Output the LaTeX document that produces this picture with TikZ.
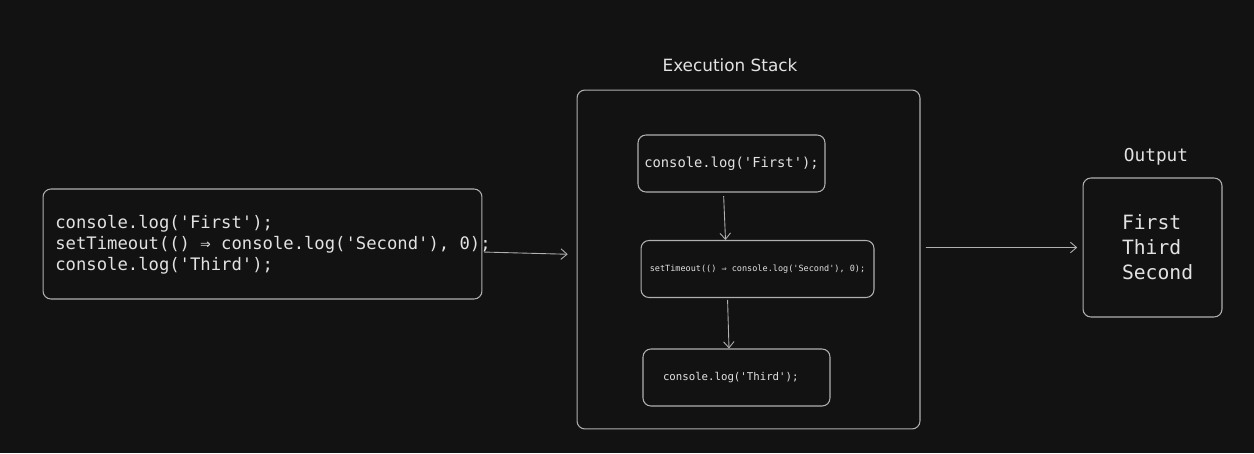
\documentclass[tikz,border=0pt]{standalone}
\usepackage{fontspec}
\setmainfont{DejaVu Sans}
\setmonofont{DejaVu Sans Mono}
\usetikzlibrary{positioning,arrows.meta}
\definecolor{bg}{HTML}{121212}
\definecolor{ln}{HTML}{B0B0B0}
\definecolor{txt}{HTML}{E2E2E2}
\newcommand{\mono}[2]{\fontsize{#1}{#2}\selectfont\ttfamily}
\tikzset{
  box/.style={draw=ln,line width=0.6pt,rounded corners=4.5pt,inner sep=0pt,text=txt,align=left},
  code/.style={text=txt,inner sep=0pt,align=left},
  lbl/.style={text=txt,inner sep=0pt},
  arr/.style={-{Straight Barb[length=3.5pt,width=6pt]},ln,line width=0.5pt},
}
\begin{document}
\begin{tikzpicture}[x=0.02cm,y=-0.02cm]
\fill[bg] (0,0) rectangle (1254,453);
% source program
\node[box,minimum width=8.78cm,minimum height=2.2cm] (src) at (262.5,244) {};
\node[code,anchor=west,font=\mono{9.8}{11.95}] (srctxt) at (55,245) {console.log('First');\\setTimeout(() ⇒ console.log('Second'), 0);\\console.log('Third');};
% execution stack
\node[lbl,font=\fontsize{9.6}{11}\selectfont] (stacklbl) at (730,65) {Execution Stack};
\node[box,minimum width=6.86cm,minimum height=6.78cm] (stack) at (748.5,259.5) {};
\node[box,minimum width=3.74cm,minimum height=1.14cm,font=\mono{7.85}{9}] (b1) at (731.5,163.5) {console.log('First');};
\node[box,minimum width=4.66cm,minimum height=1.14cm,font=\mono{4.85}{6}] (b2) at (757.5,269) {setTimeout(() ⇒ console.log('Second'), 0);};
\node[box,minimum width=3.74cm,minimum height=1.14cm,text width=2.94cm,font=\mono{6.1}{7}] (b3) at (736.5,377.5) {console.log('Third');};
% output
\node[lbl,font=\mono{10.1}{12}] (outlbl) at (1156,157) {Output};
\node[box,minimum width=2.78cm,minimum height=2.78cm,text width=1.22cm,font=\mono{11.2}{14.2}] (out) at (1152.5,247.5) {First\\Third\\Second};
\draw[arr,shorten <=1pt,shorten >=5pt] ([yshift=-0.16cm]src.east) -- ([yshift=0.1cm]stack.west);
\draw[arr,shorten <=2pt] ([xshift=-0.16cm]b1.south) -- ([xshift=-0.64cm]b2.north);
\draw[arr,shorten <=1pt] ([xshift=-0.6cm]b2.south) -- ([xshift=-0.15cm]b3.north);
\draw[arr,shorten <=3pt,shorten >=3pt] ([yshift=0.24cm]stack.east) -- (out.west);
\end{tikzpicture}
\end{document}
